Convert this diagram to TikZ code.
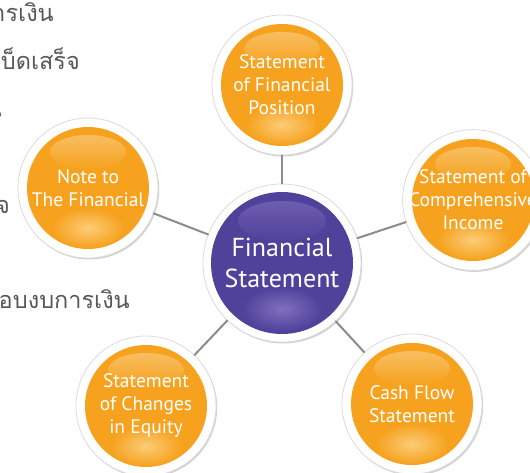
\documentclass[tikz,border=0pt]{standalone}
\usepackage{fontspec}
\setmainfont{PT Sans}
\newfontfamily\thaifont[Script=Thai]{Loma}
\usetikzlibrary{shadows}
\definecolor{ballorange}{RGB}{246,162,30}
\definecolor{balllight}{RGB}{252,204,120}
\definecolor{ballpurple}{RGB}{80,66,155}
\definecolor{purplelight}{RGB}{128,112,190}
\definecolor{linkgray}{RGB}{140,140,140}
\definecolor{thaigray}{RGB}{88,88,88}

\tikzset{
  ring/.style={circle,fill=white,draw=black!14,line width=0.8pt,
    drop shadow={shadow xshift=1.2pt,shadow yshift=-1.5pt,opacity=0.35},
    text=white,align=center,inner sep=0pt},
  orangeball/.style={ring,minimum size=140pt,font=\fontsize{19.5}{23}\selectfont,
    path picture={
      \fill[ballorange] (path picture bounding box.center) circle[radius=61pt];
      \shade[inner color=balllight,outer color=ballorange]
        ([yshift=-40pt]path picture bounding box.center) ellipse[x radius=36pt,y radius=20pt];
      \shade[top color=white,bottom color=ballorange,opacity=0.3]
        ([yshift=36pt]path picture bounding box.center) ellipse[x radius=38pt,y radius=17pt];
    }},
  purpleball/.style={ring,minimum size=158pt,font=\fontsize{26}{31}\selectfont,
    path picture={
      \fill[ballpurple] (path picture bounding box.center) circle[radius=71pt];
      \shade[inner color=purplelight,outer color=ballpurple]
        ([yshift=-46pt]path picture bounding box.center) ellipse[x radius=40pt,y radius=22pt];
      \shade[top color=purplelight,bottom color=ballpurple,opacity=0.6]
        ([yshift=42pt]path picture bounding box.center) ellipse[x radius=44pt,y radius=20pt];
    }},
  link/.style={draw=linkgray,line width=2pt},
  thai/.style={anchor=base east,inner sep=0pt,text=thaigray,font=\thaifont\fontsize{23.5}{24}\selectfont}
}

\begin{document}
\begin{tikzpicture}[x=1pt,y=-1pt,line cap=round,line join=round]
    \path[use as bounding box,fill=white] (0,0) rectangle (530,473);

    \node[thai] (thai1) at (54,22) {การเงิน};
    \node[thai] (thai2) at (80,70) {เบ็ดเสร็จ};
    \node[thai] (thai3) at (2,118) {น};
    \node[thai] (thai4) at (10,214) {จ};
    \node[thai] (thai5) at (130,308) {ระกอบงบการเงิน};

    \node[purpleball] (fs) at (282,263) {Financial\\Statement};
    \node[orangeball] (sfp) at (282,85) {Statement\\of Financial\\Position};
    \node[orangeball] (sci) at (473,200) {Statement of\\Comprehensive\\Income};
    \node[orangeball] (note) at (88,188) {Note to\\The Financial};
    \node[orangeball] (sce) at (146,406) {Statement\\of Changes\\in Equity};
    \node[orangeball] (cfs) at (412,404) {Cash Flow\\Statement};

    \draw[link] (fs) -- (sfp);
    \draw[link] (fs) -- (sci);
    \draw[link] (fs) -- (note);
    \draw[link] (fs) -- (sce);
    \draw[link] (fs) -- (cfs);
\end{tikzpicture}
\end{document}
